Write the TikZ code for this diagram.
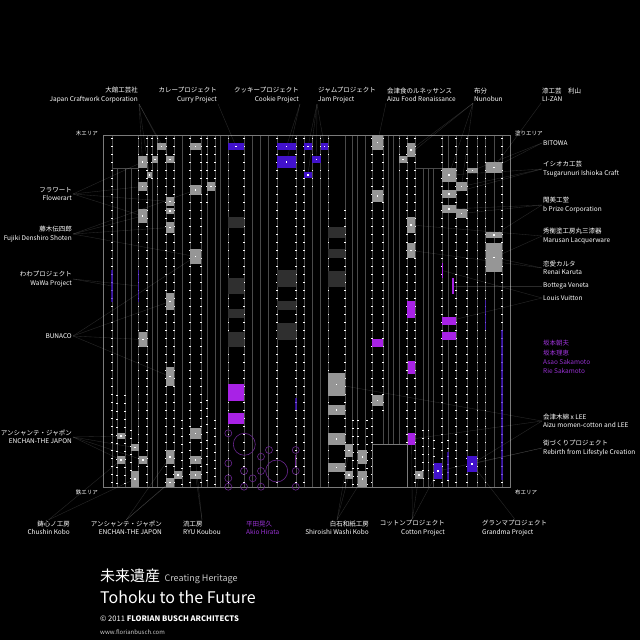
\documentclass[tikz,border=0pt]{standalone}
\usepackage{fontspec}
\setmainfont{Noto Sans CJK JP}
\usetikzlibrary{fit}

\definecolor{colgray}{HTML}{4A4A4A}
\definecolor{framegray}{HTML}{7A7A7A}
\definecolor{boxgray}{HTML}{969696}
\definecolor{darkbox}{HTML}{2F2F2F}
\definecolor{bluebox}{HTML}{4212CC}
\definecolor{purplebox}{HTML}{A822E6}
\definecolor{purpletext}{HTML}{9B32D6}
\definecolor{circpurple}{HTML}{6A2690}
\definecolor{subgray}{HTML}{C8C8C8}

\pgfdeclarelayer{bg}
\pgfsetlayers{bg,main}

\begin{document}
\begin{tikzpicture}[x=1pt, y=-1pt,
    col/.style={draw=colgray, line width=0.5pt},
    frame/.style={draw=framegray, line width=0.6pt},
    dotline/.style={draw=white, line width=1.1pt, dash pattern=on 1.1pt off 6.9pt},
    blueline/.style={draw=bluebox, line width=1.2pt},
    box/.style={inner sep=0pt, outer sep=0pt},
    cdot/.style={path picture={\fill[white] ([xshift=-0.8pt,yshift=-0.8pt]path picture bounding box.center) rectangle ([xshift=0.8pt,yshift=0.8pt]path picture bounding box.center);}},
    gbox/.style={box, fill=boxgray, cdot},
    bbox/.style={box, fill=bluebox, cdot},
    pbox/.style={box, fill=purplebox},
    dbox/.style={box, fill=darkbox},
    kbox/.style={box, fill=black, draw=framegray, line width=0.5pt},
    circ/.style={draw=circpurple, line width=0.6pt},
    lbl/.style={text=white, inner sep=1pt, font=\fontsize{6.5}{8.5}\selectfont},
    plbl/.style={lbl, text=purpletext, font=\fontsize{6.5}{9.3}\selectfont},
    area/.style={text=white, inner sep=1pt, font=\fontsize{5.5}{6.5}\selectfont},
    lead/.style={draw=white, opacity=0.17, line width=0.35pt}]

    \useasboundingbox (0,0) rectangle (640,640);

    % Background and grid
    \begin{pgfonlayer}{bg}
    \fill[black] (0,0) rectangle (640,640);
    \foreach \x in {112,138.5,147,152,157.5,166,174,182,190,201,207,215,220,228.5,244,252,260,268.5,277,296,304,312.5,320.5,328.5,345,352,357.5,365,372,407,415,442,448,456,467,477.5,485.5,494,502}
        \draw[col] (\x,135) -- (\x,487);
    \foreach \x in {117,125,131,423,428.5,433.5}
        \draw[col] (\x,168) -- (\x,487);
    \foreach \x in {383,388,393,399}
        \draw[col] (\x,135) -- (\x,444);
    \draw[col] (112,168) -- (138.5,168);
    \draw[col] (415,168) -- (442,168);
    \draw[frame] (103,135) rectangle (510,487);

    % Dotted columns
    \foreach \x/\ya/\yb in {112/138/485, 117/395/485, 125/395/485, 131/430/485, 138.5/138/485, 147/138/485,
        152/138/180, 157.5/138/200, 166/138/485, 174/138/485, 182/420/485, 190/138/485, 201/138/485,
        207/138/205, 207/400/485, 215/138/190, 215/420/485, 228.5/138/485, 244/138/485, 277/138/485,
        296/138/485, 304/138/485, 312.5/138/190, 320.5/138/185, 328.5/138/485, 345/210/485, 353/420/485,
        358/420/485, 367/420/485, 372/138/485, 383/138/414, 399.5/138/175, 407/138/485, 415/138/485,
        423/430/485, 428.5/430/485, 434/440/485, 442/138/485, 448/440/485, 456/138/485, 467/138/485,
        477.5/138/485, 485.5/138/485, 502/138/485}
        \draw[dotline] (\x,\ya) -- (\x,\yb);
    \foreach \x/\ya/\yb in {112/270/302, 138.5/270/302, 485.5/300/330, 502/330/480, 296/398/410, 448/452/480}
        \draw[blueline, opacity=0.7] (\x,\ya) -- (\x,\yb);
    \end{pgfonlayer}

    % Gray boxes
    \foreach \n/\xa/\ya/\xb/\yb in {g1/157/143/166/150, g2/190/143/201/150, g3/138/156/147/168, g4/152/156/158/163,
        g5/166/156/174/163, g6/147/172/152/178, g7/138/182/147/191, g8/190/185/201/195, g9/207/182/215/191,
        g10/166/197/174/206, g11/166/208/174/214, g12/138/209/147/223, g13/166/222/174/233, g14/190/249/201/264,
        g15/166/293/174/310, g16/372/135/383/150, g17/407/143/415/157, g18/399/156/407/163, g19/372/190/383/202,
        g20/442/168/456/182, g21/456/182/467/191, g22/467/168/478/173, g23/486/162/502/173, g24/442/190/456/198,
        g25/442/205/456/213, g26/456/209/467/218, g27/407/217/415/233, g28/407/243/415/258, g29/486/232/502/238,
        g30/486/243/502/272, g31/139/332/147/347, g32/166/367/174/386, g33/328/373/345/396, g34/372/395/383/406,
        g35/328/405/345/415, g36/117/433/125/439, g37/190/428/201/439, g38/328/433/345/445, g39/131/444/139/451,
        g40/345/444/353/457, g41/117/456/125/464, g42/139/456/147/464, g43/166/450/174/464, g44/190/456/201/464,
        g45/358/450/367/464, g46/328/463/345/472, g47/174/471/182/479, g48/190/471/201/479, g49/345/471/353/479,
        g50/415/471/423/479, g51/131/471/139/487, g52/166/478/174/487, g53/358/471/367/487}
        \node[gbox, fit={(\xa,\ya) (\xb,\yb)}] (\n) {};

    % Blue boxes
    \foreach \n/\xa/\ya/\xb/\yb in {b1/228/143/244/150, b2/277/143/296/150, b3/277/156/296/168, b4/304/143/312/150,
        b5/321/143/328/150, b6/312/156/321/163, b7/304/172/312/178, b8/467/456/477/472, b9/434/463/442/479}
        \node[bbox, fit={(\xa,\ya) (\xb,\yb)}] (\n) {};

    % Purple boxes
    \foreach \n/\xa/\ya/\xb/\yb in {p1/407/301/415/318, p2/442/317/456/325, p3/442/332/456/340, p4/372/339/383/347,
        p5/408/361/415/374, p6/228/384/244/401, p7/228/413/244/424, p8/408/433/415/445,
        p9/441.5/263/443/278, p10/452/278/454/294}
        \node[pbox, fit={(\xa,\ya) (\xb,\yb)}] (\n) {};

    % Dark boxes
    \foreach \n/\xa/\ya/\xb/\yb in {d1/228/217/244/228, d2/328/227/345/238, d3/328/249/345/258, d4/277/270/296/287,
        d5/328/271/345/287, d6/228/278/244/294, d7/277/301/296/310, d8/228/309/244/318, d9/277/323/296/340,
        d10/228/332/244/347}
        \node[dbox, fit={(\xa,\ya) (\xb,\yb)}] (\n) {};
    \node[kbox, fit={(372,444) (407,487)}] (k1) {};

    % Circles
    \foreach \x/\y in {228.3/433.3, 228.3/463.3, 228.3/478.3, 228.3/486.7, 244/471, 244/486.7, 252.7/478.3,
        261/456.7, 261/471, 261/486.7, 269/450, 295.7/450, 295.7/471, 295.7/486.7}
        \draw[circ] (\x,\y) circle (3.5);
    \draw[circ] (244.3,444.3) circle (11);
    \draw[circ] (276.7,471) circle (11);
    \draw[draw=circpurple, line width=1pt] (295.7,455) -- (295.7,466);

    % Area labels
    \node[area, anchor=east] (mok) at (99,133) {木エリア};
    \node[area, anchor=west] (nur) at (514,133) {塗りエリア};
    \node[area, anchor=east] (tet) at (99,492) {鉄エリア};
    \node[area, anchor=west] (nuno) at (514,492) {布エリア};

    % Top labels
    \node[lbl, anchor=east, align=right] (jcc) at (139,95) {大館工芸社\\Japan Craftwork Corporation};
    \node[lbl, anchor=east, align=right] (cur) at (218,95) {カレープロジェクト\\Curry Project};
    \node[lbl, anchor=east, align=right] (coo) at (300,95) {クッキープロジェクト\\Cookie Project};
    \node[lbl, anchor=west, align=left] (jam) at (317,95) {ジャムプロジェクト\\Jam Project};
    \node[lbl, anchor=west, align=left] (afr) at (386,95) {会津食のルネッサンス\\Aizu Food Renaissance};
    \node[lbl, anchor=west, align=left] (nun) at (473,95) {布分\\Nunobun};
    \node[lbl, anchor=west, align=left] (liz) at (541,95) {漆工芸　利山\\LI-ZAN};

    % Left labels
    \node[lbl, anchor=east, align=right] (flo) at (73,194) {フラワート\\Flowerart};
    \node[lbl, anchor=east, align=right] (fuj) at (73,234) {藤木伝四郎\\Fujiki Denshiro Shoten};
    \node[lbl, anchor=east, align=right] (wwp) at (73,279) {わわプロジェクト\\WaWa Project};
    \node[lbl, anchor=east] (bun) at (73,336) {BUNACO};
    \node[lbl, anchor=east, align=right] (enl) at (73,437) {アンシャンテ・ジャポン\\ENCHAN-THE JAPON};

    % Right labels
    \node[lbl, anchor=west] (bit) at (542,143) {BITOWA};
    \node[lbl, anchor=west, align=left] (ish) at (542,169) {イシオカ工芸\\Tsugarunuri Ishioka Craft};
    \node[lbl, anchor=west, align=left] (bpr) at (542,205) {閑美工堂\\b Prize Corporation};
    \node[lbl, anchor=west, align=left] (mar) at (542,236) {秀衡塗工房丸三漆器\\Marusan Lacquerware};
    \node[lbl, anchor=west, align=left] (ren) at (542,268) {恋愛カルタ\\Renai Karuta};
    \node[lbl, anchor=west] (bot) at (542,286) {Bottega Veneta};
    \node[lbl, anchor=west] (lvt) at (542,298) {Louis Vuitton};
    \node[plbl, anchor=west, align=left] (sak) at (542,357) {坂本朝夫\\坂本理恵\\Asao Sakamoto\\Rie Sakamoto};
    \node[lbl, anchor=west, align=left] (alee) at (542,421) {会津木綿 x LEE\\Aizu momen-cotton and LEE};
    \node[lbl, anchor=west, align=left] (reb) at (542,448) {街づくりプロジェクト\\Rebirth from Lifestyle Creation};

    % Bottom labels
    \node[lbl, anchor=east, align=right] (chu) at (71,528) {鋳心ノ工房\\Chushin Kobo};
    \node[lbl, anchor=east, align=right] (enb) at (163,528) {アンシャンテ・ジャポン\\ENCHAN-THE JAPON};
    \node[lbl, anchor=west, align=left] (ryu) at (182,528) {流工房\\RYU Koubou};
    \node[plbl, font=\fontsize{6.5}{8.5}\selectfont, anchor=west, align=left] (hir) at (245,528) {平田晃久\\Akio Hirata};
    \node[lbl, anchor=east, align=right] (shi) at (370,528) {白石和紙工房\\Shiroishi Washi Kobo};
    \node[lbl, anchor=east, align=right] (cot) at (446,528) {コットンプロジェクト\\Cotton Project};
    \node[lbl, anchor=west, align=left] (gra) at (481,528) {グランマプロジェクト\\Grandma Project};

    % Title block
    \node[anchor=base west, inner sep=0pt, text=white, font=\fontsize{15}{15}\selectfont] (ttl) at (100,581) {未来遺産};
    \node[anchor=base west, inner sep=0pt, text=subgray, font=\fontsize{9}{9}\selectfont] (sub) at ([xshift=4pt]ttl.base east) {Creating Heritage};
    \node[anchor=base west, inner sep=0pt, text=white, font=\fontsize{16}{16}\selectfont] (tfu) at (100,603) {Tohoku to the Future};
    \node[anchor=base west, inner sep=0pt, text=white, font=\fontsize{7.6}{8}\selectfont] (cpy) at (100,621) {© 2011 \textbf{FLORIAN BUSCH ARCHITECTS}};
    \node[anchor=base west, inner sep=0pt, text=subgray, font=\fontsize{6}{7}\selectfont] (web) at (100,634) {www.florianbusch.com};

    % Leader lines
    \coordinate (w1) at (112,286);
    \coordinate (w2) at (138.5,286);
    \begin{pgfonlayer}{bg}
    \foreach \a/\b in {jcc.south east/g3, jcc.south east/g6, jcc.south east/g1, jcc.south east/g5,
        cur.south east/b1, coo.south east/b2, coo.south east/b3,
        jam.south west/b4, jam.south west/b6, jam.south west/b7, jam.south west/b5,
        afr.south west/g16, nun.south west/g17, nun.south west/g18, nun.south west/g20, nun.south west/g21,
        liz.south west/g23,
        flo.east/g3, flo.east/g7, flo.east/g12, flo.east/g10,
        fuj.east/g12, fuj.east/g13, fuj.east/g8, fuj.east/g14,
        wwp.east/w1, wwp.east/w2,
        bun.east/g31, bun.east/g15, bun.east/g14, bun.east/g32,
        enl.east/g36, enl.east/g39, enl.east/g41, enl.east/g42,
        bit.west/g22, bit.west/g23, ish.west/g21, ish.west/g24, ish.west/g20,
        bpr.west/g25, bpr.west/g26, bpr.west/g29, mar.west/g30, mar.west/g27,
        ren.west/g28, ren.west/g30, bot.west/p10, lvt.west/p9, lvt.west/p2,
        alee.west/g33, alee.west/p8, alee.west/b8, reb.west/b8, reb.west/b9,
        chu.north/g41, chu.north/g51, enb.north/g52, enb.north/g47, enb.north/g43,
        ryu.north/g48, ryu.north/g44, shi.north/g49, shi.north/g53, shi.north/g40,
        cot.north/b9, cot.north/g50, cot.north/p8, gra.north/b8}
        \draw[lead] (\a) -- (\b.center);
    \end{pgfonlayer}

\end{tikzpicture}
\end{document}
